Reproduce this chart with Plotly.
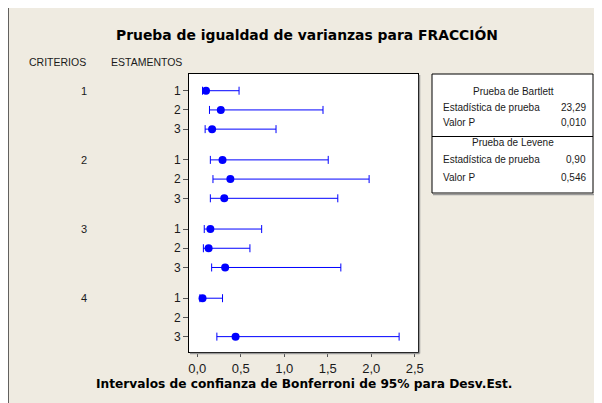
import plotly.graph_objects as go

# ---------------- data ----------------
criterios = ["1", "2", "3", "4"]
estamentos = ["1", "2", "3"]
# Bonferroni 95% CI for StDev, by criterio (rows) x estamento (cols)
sigma = [[0.10, 0.27, 0.17],
         [0.29, 0.38, 0.31],
         [0.15, 0.13, 0.32],
         [0.06, None, 0.44]]
lower = [[0.06, 0.14, 0.09],
         [0.15, 0.18, 0.15],
         [0.08, 0.07, 0.165],
         [0.03, None, 0.225]]
upper = [[0.48, 1.445, 0.905],
         [1.505, 1.975, 1.615],
         [0.74, 0.605, 1.65],
         [0.29, None, 2.32]]

bartlett_stat = "23,29"
bartlett_p = "0,010"
levene_stat = "0,90"
levene_p = "0,546"

title = "Prueba de igualdad de varianzas para FRACCIÓN"
xtitle = "Intervalos de confianza de Bonferroni de 95% para Desv.Est."

# ---------------- layout geometry (screen pixels) ----------------
W, H = 602, 403
OFF = 8  # page body margin
L, R, T, B = 189, 418, 74, 352
GROUP_STEP = 3.6

def px(x):
    return (x - L) / (R - L)

def py(y):
    return (B - y) / (B - T)

FONT = "Liberation Sans"
BOLD_FONT = "DejaVu Sans"
BLUE = "#0000FF"
BG = "#EFEBE1"
TXT = "#1a1a1a"

ys, xs, eplus, eminus = [], [], [], []
tickvals, ticktext = [], []
for g, c in enumerate(criterios):
    for k, e in enumerate(estamentos):
        pos = g * GROUP_STEP + k
        tickvals.append(pos)
        ticktext.append(e)
        s = sigma[g][k]
        if s is None:
            continue
        ys.append(pos)
        xs.append(s)
        eplus.append(upper[g][k] - s)
        eminus.append(s - lower[g][k])

fig = go.Figure()
fig.add_trace(go.Scatter(
    x=xs, y=ys, mode="markers",
    marker=dict(color=BLUE, size=8),
    error_x=dict(type="data", symmetric=False, array=eplus, arrayminus=eminus,
                 color=BLUE, thickness=1, width=4),
    showlegend=False, hoverinfo="skip",
))

last = (len(criterios) - 1) * GROUP_STEP + len(estamentos) - 1

FW, FH = W - OFF, H - OFF
fig.update_layout(
    width=FW, height=FH, autosize=False,
    margin=dict(l=L - OFF, r=FW - (R - OFF), t=T - OFF, b=FH - (B - OFF), pad=0),
    paper_bgcolor=BG, plot_bgcolor="white",
    separators=",.",
    font=dict(family=FONT, size=11, color=TXT),
    showlegend=False,
    xaxis=dict(range=[-0.0954, 2.537], tick0=0, dtick=0.5, tickformat=".1f",
               showgrid=False, zeroline=False, showline=True, linecolor="#000",
               linewidth=1, mirror=True, ticks="outside", ticklen=4,
               tickcolor="#555", tickfont=dict(size=13, family=FONT, color=TXT)),
    yaxis=dict(range=[last + 0.80, -0.87], tickvals=tickvals, ticktext=ticktext,
               showgrid=False, zeroline=False, showline=True, linecolor="#000",
               linewidth=1, mirror=True, ticks="outside", ticklen=5,
               tickcolor="#555", tickfont=dict(size=12, family=FONT, color=TXT)),
)

shapes = []
# outer frame (left and top lines only visible)
shapes.append(dict(type="line", xref="paper", yref="paper", x0=px(8), x1=px(8), y0=py(7), y1=py(410),
                   line=dict(color="#333", width=1.5)))
shapes.append(dict(type="line", xref="paper", yref="paper", x0=px(8), x1=px(610), y0=py(7), y1=py(7),
                   line=dict(color="#333", width=1.5)))
# plot-area shadow
shapes.append(dict(type="line", xref="paper", yref="paper", x0=px(R + 1.5), x1=px(R + 1.5), y0=py(T + 1), y1=py(B + 1.5),
                   line=dict(color="#999", width=1.5)))
shapes.append(dict(type="line", xref="paper", yref="paper", x0=px(L + 1), x1=px(R + 1.5), y0=py(B + 1.5), y1=py(B + 1.5),
                   line=dict(color="#999", width=1.5)))
# legend box
bx0, bx1, by0, by1, bdiv = 432, 593, 74, 193, 136.5
shapes.append(dict(type="rect", xref="paper", yref="paper", x0=px(bx0), x1=px(bx1), y0=py(by0), y1=py(by1),
                   fillcolor="white", line=dict(color="#000", width=1)))
shapes.append(dict(type="line", xref="paper", yref="paper", x0=px(bx0), x1=px(bx1), y0=py(bdiv), y1=py(bdiv),
                   line=dict(color="#000", width=1)))
shapes.append(dict(type="line", xref="paper", yref="paper", x0=px(bx1 + 1.5), x1=px(bx1 + 1.5), y0=py(by0 + 1), y1=py(by1 + 1.5),
                   line=dict(color="#999", width=1.5)))
shapes.append(dict(type="line", xref="paper", yref="paper", x0=px(bx0 + 1), x1=px(bx1 + 1.5), y0=py(by1 + 1.5), y1=py(by1 + 1.5),
                   line=dict(color="#999", width=1.5)))
fig.update_layout(shapes=shapes)

ann = []
def text(x, y, s, size=11, bold=False, xanchor="center"):
    ann.append(dict(xref="paper", yref="paper", x=px(x), y=py(y), text=f"<b>{s}</b>" if bold else s,
                    showarrow=False, xanchor=xanchor, yanchor="middle",
                    font=dict(size=size, family=BOLD_FONT if bold else FONT, color="#000" if bold else TXT)))

text(307, 35, title, size=13.9, bold=True)
text(304, 384, xtitle, size=12.2, bold=True)
text(57, 62, "CRITERIOS", size=10.5)
text(146, 62, "ESTAMENTOS", size=10.5)

# group labels
for g, c in enumerate(criterios):
    ann.append(dict(xref="paper", yref="y", x=px(84), y=g * GROUP_STEP, text=c, showarrow=False,
                    xanchor="center", yanchor="middle", font=dict(size=11, family=FONT, color=TXT)))

# legend texts
text(513, 91.5, "Prueba de Bartlett", size=10)
text(441, 107.3, "Estadística de prueba", size=10, xanchor="left")
text(588, 107.3, bartlett_stat, size=10, xanchor="right")
text(441, 122, "Valor P", size=10, xanchor="left")
text(588, 122, bartlett_p, size=10, xanchor="right")
text(513, 142, "Prueba de Levene", size=10)
text(441, 159.3, "Estadística de prueba", size=10, xanchor="left")
text(588, 159.3, levene_stat, size=10, xanchor="right")
text(441, 177.3, "Valor P", size=10, xanchor="left")
text(588, 177.3, levene_p, size=10, xanchor="right")

fig.update_layout(annotations=ann)
fig.write_html("out.html")
